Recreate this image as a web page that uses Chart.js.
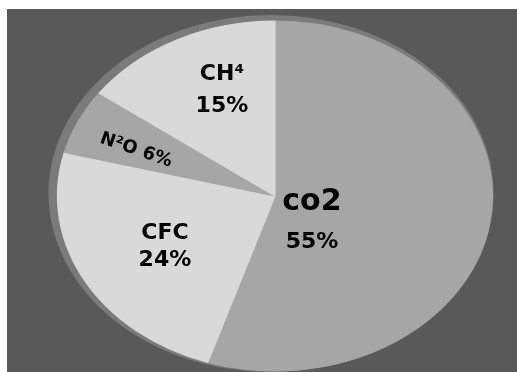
<!DOCTYPE html>
<html>
<head>
<meta charset="utf-8">
<script src="https://cdn.jsdelivr.net/npm/chart.js@4/dist/chart.umd.min.js"></script>
<style>
  html, body { margin: 0; padding: 0; background: #ffffff; width: 517px; height: 372px; overflow: hidden; }
  #wrap { position: absolute; left: 7px; top: 9px; width: 510px; height: 363px; background: #595959; }
  canvas { display: block; }
</style>
</head>
<body>
<div id="wrap"><canvas id="c" width="510" height="363"></canvas></div>
<script>
// ---- data ----
const categories = ['co2', 'CFC', 'N\u00B2O', 'CH\u2074'];
const values = [55, 24, 6, 15];
const percentLabels = ['55%', '24%', '6%', '15%'];

// ---- styling / layout (not data) ----
const sliceColors = ['#a6a6a6', '#d9d9d9', '#a6a6a6', '#d9d9d9'];
const rimColor = '#7b7b7b';
const STRETCH_X = 217.5 / 175; // ellipse horizontal stretch
const FONT = '"DejaVu Sans", Verdana, sans-serif';

// label anchors, in units of the ellipse radii relative to pie centre
const labelLayout = [
  { lines: [{ t: 0, u: 0.170, v: 0.080, size: 30 }, { t: 1, u: 0.170, v: 0.297, size: 22 }] },
  { lines: [{ t: 0, u: -0.506, v: 0.246, size: 22 }, { t: 1, u: -0.506, v: 0.400, size: 22 }] },
  { inline: true, u: -0.636, v: -0.272, size: 18, rot: 19 },
  { lines: [{ t: 0, u: -0.244, v: -0.663, size: 22 }, { t: 1, u: -0.244, v: -0.480, size: 22 }] }
];

const ellipsePlugin = {
  id: 'ellipsePie',
  beforeDatasetsDraw(chart) {
    const meta = chart.getDatasetMeta(0);
    const a = meta.data[0];
    const ctx = chart.ctx;
    const x = a.x, y = a.y, r = a.outerRadius;
    ctx.save();
    ctx.fillStyle = rimColor;
    ctx.beginPath();
    ctx.ellipse(x - 4, y - 2.5, r * STRETCH_X + 5, r + 3.5, 0, 0, Math.PI * 2);
    ctx.fill();
    ctx.restore();
    ctx.save();
    ctx.translate(x, y);
    ctx.scale(STRETCH_X, 1);
    ctx.translate(-x, -y);
  },
  afterDatasetsDraw(chart) {
    const ctx = chart.ctx;
    ctx.restore();
    const meta = chart.getDatasetMeta(0);
    meta.data.forEach((arc, i) => {
      const cx = arc.x, cy = arc.y;
      const rx = arc.outerRadius * STRETCH_X, ry = arc.outerRadius;
      const lay = labelLayout[i];
      ctx.save();
      ctx.fillStyle = '#000000';
      if (lay.inline) {
        ctx.translate(cx + lay.u * rx, cy + lay.v * ry);
        ctx.rotate(lay.rot * Math.PI / 180);
        ctx.font = 'bold ' + lay.size + 'px ' + FONT;
        ctx.textAlign = 'center';
        ctx.textBaseline = 'alphabetic';
        ctx.fillText(categories[i] + ' ' + percentLabels[i], 0, lay.size * 0.365);
      } else {
        lay.lines.forEach(l => {
          const txt = l.t === 0 ? categories[i] : percentLabels[i];
          ctx.font = 'bold ' + l.size + 'px ' + FONT;
          ctx.textAlign = 'center';
          ctx.textBaseline = 'alphabetic';
          ctx.fillText(txt, cx + l.u * rx, cy + l.v * ry);
        });
      }
      ctx.restore();
    });
  }
};

new Chart(document.getElementById('c'), {
  type: 'pie',
  data: {
    labels: categories,
    datasets: [{
      data: values,
      backgroundColor: sliceColors,
      borderColor: sliceColors,
      borderWidth: 1,
      radius: 175
    }]
  },
  options: {
    responsive: false,
    animation: false,
    devicePixelRatio: 1,
    layout: { padding: { top: 12, bottom: 1, left: 26, right: 0 } },
    plugins: { legend: { display: false }, tooltip: { enabled: false } }
  },
  plugins: [ellipsePlugin]
});
</script>
</body>
</html>
